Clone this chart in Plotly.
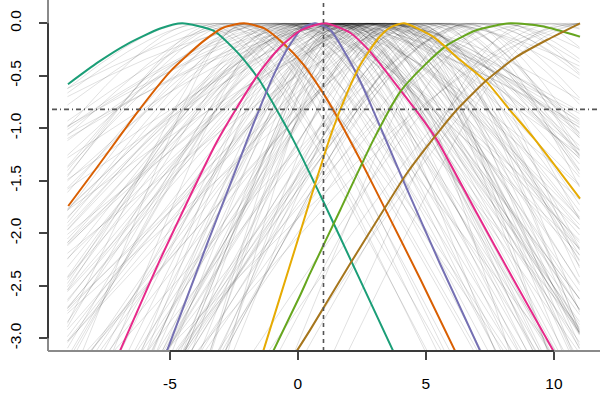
import numpy as np
import plotly.graph_objects as go

# ---- highlighted curves: points (x, relative log-likelihood) ----
teal_x = [-8.98, -7.8, -6.68, -5.38, -4.52, -3.3, -2.39, -1.87, -1.48, -0.18, 0.98, 2.4, 3.72]
teal_y = [-0.58, -0.37, -0.20, -0.05, 0.0, -0.07, -0.27, -0.42, -0.55, -1.11, -1.69, -2.43, -3.12]

orange_x = [-8.97, -7.9, -6.82, -6.28, -4.99, -3.69, -2.9, -2.1, -1.3, -0.57, 0.21, 1.0, 1.45, 1.78, 2.5, 3.41, 4.77, 6.14]
orange_y = [-1.74, -1.39, -1.03, -0.85, -0.46, -0.17, -0.04, 0.0, -0.05, -0.19, -0.39, -0.67, -0.855, -1.0, -1.33, -1.77, -2.43, -3.12]

purple_x = [-5.19, -3.56, -2.78, -1.74, -0.96, -0.3, 0.21, 0.67, 1.26, 1.91, 2.43, 2.89, 4.12, 5.55, 7.12]
purple_y = [-3.17, -2.11, -1.62, -0.96, -0.50, -0.20, -0.04, 0.0, -0.06, -0.31, -0.55, -0.80, -1.50, -2.29, -3.12]

pink_x = [-6.95, -5.38, -4.2, -3.17, -2.45, -1.48, -0.7, 0.09, 1.05, 2.04, 2.82, 3.73, 4.71, 5.43, 6.99, 8.42, 9.98]
pink_y = [-3.12, -2.25, -1.64, -1.13, -0.83, -0.46, -0.23, -0.07, 0.0, -0.09, -0.27, -0.55, -0.86, -1.11, -1.81, -2.44, -3.12]

green_x = [-0.96, 0.09, 0.48, 1.65, 2.95, 4.0, 4.9, 5.82, 6.99, 8.29, 9.59, 11.02]
green_y = [-3.12, -2.59, -2.38, -1.78, -1.11, -0.65, -0.41, -0.21, -0.064, 0.0, -0.03, -0.127]

yellow_x = [-1.35, -0.7, 0.09, 0.48, 1.32, 1.91, 2.43, 3.15, 3.6, 4.15, 5.29, 6.34, 7.38, 8.29, 9.27, 11.02]
yellow_y = [-3.12, -2.61, -1.99, -1.68, -1.04, -0.67, -0.40, -0.14, -0.04, 0.0, -0.13, -0.35, -0.56, -0.83, -1.11, -1.67]

brown_x = [-0.04, 0.48, 2.04, 3.34, 4.25, 5.55, 6.2, 7.38, 8.55, 9.72, 11.02]
brown_y = [-3.12, -2.92, -2.29, -1.78, -1.43, -1.017, -0.826, -0.54, -0.318, -0.159, 0.0]

highlight_colors = ["#1B9E77", "#D95F02", "#7570B3", "#E7298A", "#66A61E", "#E6AB02", "#A6761D"]

# ---- background curves: estimated peak location, spread and skew of each grey curve ----
grey_peak = [
    -0.8, 0.3, 1.2, 2.1, 2.9, 3.6, 0.6, 1.7, 4.3, -0.2,
    1.0, 2.5, 3.2, 0.0, 1.5, 4.8, 2.2, -1.2, 3.9, 0.9,
    1.9, 2.7, 0.4, 3.4, 5.2, -0.5, 1.3, 2.0, 4.0, 2.8,
    0.7, 3.0, 1.6, -1.6, 5.6, 2.4, 0.2, 3.7, 1.1, 4.5,
    2.3, -0.3, 3.3, 1.8, 6.1, 0.5, 2.6, 4.1, -2.2, 1.4,
    -2.8, -3.5, -1.9, -4.2, -2.5, -3.1, -1.4, -3.0, -2.0, -3.8,
    5.8, 6.6, 7.2, 5.4, 8.0, 6.9, 7.6, 9.1, 5.0, 8.6,
    0.8, 2.0, 3.5, 1.2, 4.6, -0.9, 2.9, 6.3, 0.1, 3.8,
    -1.0, 1.6, 4.4, 2.6, 0.6, 5.3, 3.1, 7.0, -0.4, 2.2,
    1.9, 3.5, 0.3, 4.9, 2.7, -1.8, 5.9, 1.0, 3.2, 6.8,
    12.0, 11.5, 9.4, 13.0, 10.2, 9.8, 0.6, 11.2, 10.6, 0.0,
    2.4, 1.3, 4.2, 0.9, 3.0, 2.0, 5.1, -0.6, 1.7, 3.6,
    0.4, 2.8, 4.7, 1.5, -1.3, 3.9, 2.1, 6.4, 0.7, 2.5,
    1.1, 3.3, -0.1, 4.0, 2.9, 5.5, 1.8, -2.6, 3.4, 7.8,
    2.0, 0.5, 3.7, 1.4, 4.3, 2.6, -0.7, 5.7, 1.9, 3.0,
]
grey_spread = [
    1.2, 0.9, 1.4, 1.1, 1.6, 1.0, 2.2, 0.8, 1.3, 1.8,
    1.0, 1.5, 0.9, 2.6, 1.2, 1.4, 0.8, 1.7, 1.1, 3.0,
    1.3, 0.9, 1.6, 2.0, 1.2, 1.0, 2.8, 1.1, 0.9, 1.5,
    1.7, 1.2, 0.8, 1.4, 1.6, 2.4, 1.3, 0.9, 1.9, 1.1,
    1.0, 1.3, 2.2, 1.5, 1.2, 0.9, 3.2, 1.4, 1.6, 1.1,
    1.3, 1.8, 1.0, 1.5, 1.5, 1.2, 2.6, 1.6, 0.9, 1.4,
    1.4, 1.0, 1.8, 2.5, 1.3, 1.6, 2.2, 1.2, 3.0, 1.9,
    1.1, 0.8, 1.4, 1.8, 1.0, 2.1, 1.2, 1.5, 1.6, 0.9,
    2.4, 1.0, 1.3, 0.9, 1.5, 1.1, 1.9, 1.7, 1.2, 2.7,
    0.9, 1.6, 1.2, 1.0, 2.0, 1.4, 1.3, 1.8, 1.1, 1.5,
    2.0, 2.5, 2.2, 3.0, 1.6, 1.8, 3.0, 2.0, 1.4, 3.4,
    1.2, 1.9, 1.0, 1.4, 2.3, 0.9, 1.6, 1.3, 1.1, 2.0,
    1.5, 1.1, 1.7, 0.9, 1.3, 1.2, 2.5, 1.4, 1.0, 1.8,
    1.4, 2.1, 1.2, 1.6, 1.0, 1.3, 2.9, 1.5, 1.2, 1.7,
    1.7, 1.3, 1.1, 2.2, 0.9, 1.4, 1.6, 1.2, 1.0, 2.6,
]
grey_skew = [
    0.45, 0.55, 0.35, 0.6, 0.5, 0.4, 0.5, 0.65, 0.3, 0.55,
    0.5, 0.4, 0.6, 0.45, 0.35, 0.55, 0.7, 0.5, 0.4, 0.6,
    0.55, 0.3, 0.5, 0.65, 0.45, 0.6, 0.4, 0.5, 0.35, 0.55,
    0.4, 0.6, 0.5, 0.45, 0.35, 0.65, 0.55, 0.4, 0.5, 0.3,
    0.6, 0.45, 0.5, 0.35, 0.4, 0.55, 0.45, 0.6, 0.5, 0.65,
    0.4, 0.35, 0.5, 0.3, 0.45, 0.4, 0.35, 0.3, 0.55, 0.4,
    0.55, 0.6, 0.65, 0.5, 0.6, 0.7, 0.6, 0.65, 0.55, 0.7,
    0.5, 0.6, 0.45, 0.55, 0.4, 0.5, 0.35, 0.6, 0.45, 0.5,
    0.45, 0.55, 0.4, 0.6, 0.5, 0.35, 0.55, 0.6, 0.5, 0.45,
    0.6, 0.45, 0.5, 0.4, 0.55, 0.35, 0.6, 0.5, 0.45, 0.55,
    0.75, 0.7, 0.65, 0.75, 0.7, 0.65, 0.55, 0.7, 0.7, 0.5,
    0.55, 0.45, 0.6, 0.5, 0.4, 0.55, 0.45, 0.5, 0.6, 0.4,
    0.5, 0.6, 0.45, 0.55, 0.4, 0.5, 0.6, 0.45, 0.5, 0.55,
    0.45, 0.5, 0.55, 0.4, 0.6, 0.5, 0.45, 0.35, 0.55, 0.6,
    0.5, 0.55, 0.4, 0.6, 0.45, 0.5, 0.4, 0.55, 0.5, 0.45,
]

x_ticks = [-5, 0, 5, 10]
x_tick_text = ["-5", "0", "5", "10"]
y_ticks = [0.0, -0.5, -1.0, -1.5, -2.0, -2.5, -3.0]
y_tick_text = ["0.0", "-0.5", "-1.0", "-1.5", "-2.0", "-2.5", "-3.0"]
ref_x = 1.0
ref_y = -0.82
x_lo, x_hi = -9.0, 11.0


def rel_loglik(x, mu, s, p):
    t0 = np.log(p / (1 - p))
    u = (x - mu) / s
    return p * u - np.logaddexp(0, t0 + u) + np.logaddexp(0, t0)


grid = np.linspace(x_lo, x_hi, 241)
fig = go.Figure()
for mu, s, p in zip(grey_peak, grey_spread, grey_skew):
    yv = rel_loglik(grid, mu, s, p)
    yv = yv - yv.max()
    fig.add_trace(go.Scatter(x=grid, y=yv, mode="lines",
                             line=dict(color="rgba(0,0,0,0.12)", width=1),
                             hoverinfo="skip", showlegend=False))

series = [(teal_x, teal_y), (orange_x, orange_y), (purple_x, purple_y), (pink_x, pink_y),
          (green_x, green_y), (yellow_x, yellow_y), (brown_x, brown_y)]
for (xs, ys), col in zip(series, highlight_colors):
    fig.add_trace(go.Scatter(x=xs, y=ys, mode="lines",
                             line=dict(color=col, width=2, shape="spline", smoothing=0.6),
                             showlegend=False))

font = dict(family="Liberation Sans, Arial, sans-serif", size=15.5, color="black")
shapes = [
    # reference lines
    dict(type="line", xref="x", yref="paper", x0=ref_x, x1=ref_x, y0=0, y1=1,
         line=dict(color="#555555", width=1.6, dash="4px,4px")),
    dict(type="line", xref="paper", yref="y", x0=0, x1=1, y0=ref_y, y1=ref_y,
         line=dict(color="#555555", width=1.6, dash="1px,3px,5px,3px")),
    # axis box (light) and axis lines (dark)
    dict(type="line", xref="paper", yref="paper", x0=0, x1=1, y0=0, y1=0,
         line=dict(color="#8a8a8a", width=2)),
    dict(type="line", xref="paper", yref="paper", x0=0, x1=0, y0=0, y1=1,
         line=dict(color="#8a8a8a", width=2)),
    dict(type="line", xref="x", yref="paper", x0=x_ticks[0], x1=x_ticks[-1], y0=0, y1=0,
         line=dict(color="#3a3a3a", width=2)),
    dict(type="line", xref="paper", yref="y", x0=0, x1=0, y0=y_ticks[-1], y1=y_ticks[0],
         line=dict(color="#3a3a3a", width=2)),
]

fig.update_layout(
    width=600, height=400,
    margin=dict(l=48, r=0, t=0, b=49),
    paper_bgcolor="white", plot_bgcolor="white",
    showlegend=False,
    shapes=shapes,
    xaxis=dict(range=[-9.76, 11.8], showgrid=False, zeroline=False, showline=False,
               automargin=False,
               tickmode="array", tickvals=x_ticks, ticktext=x_tick_text,
               ticks="outside", ticklen=8, tickwidth=1.5, tickcolor="#444444",
               tickfont=font, ticklabelstandoff=10),
    yaxis=dict(range=[-3.121, 0.222], showgrid=False, zeroline=False, showline=False,
               automargin=False,
               tickmode="array", tickvals=y_ticks, ticktext=y_tick_text,
               ticks="outside", ticklen=8, tickwidth=1.5, tickcolor="#444444",
               tickfont=font, tickangle=-90, ticklabelstandoff=12),
)

fig.write_html("out.html",
               config={"displayModeBar": False},
               post_script="document.body.style.margin='0';document.body.style.overflow='hidden';")
